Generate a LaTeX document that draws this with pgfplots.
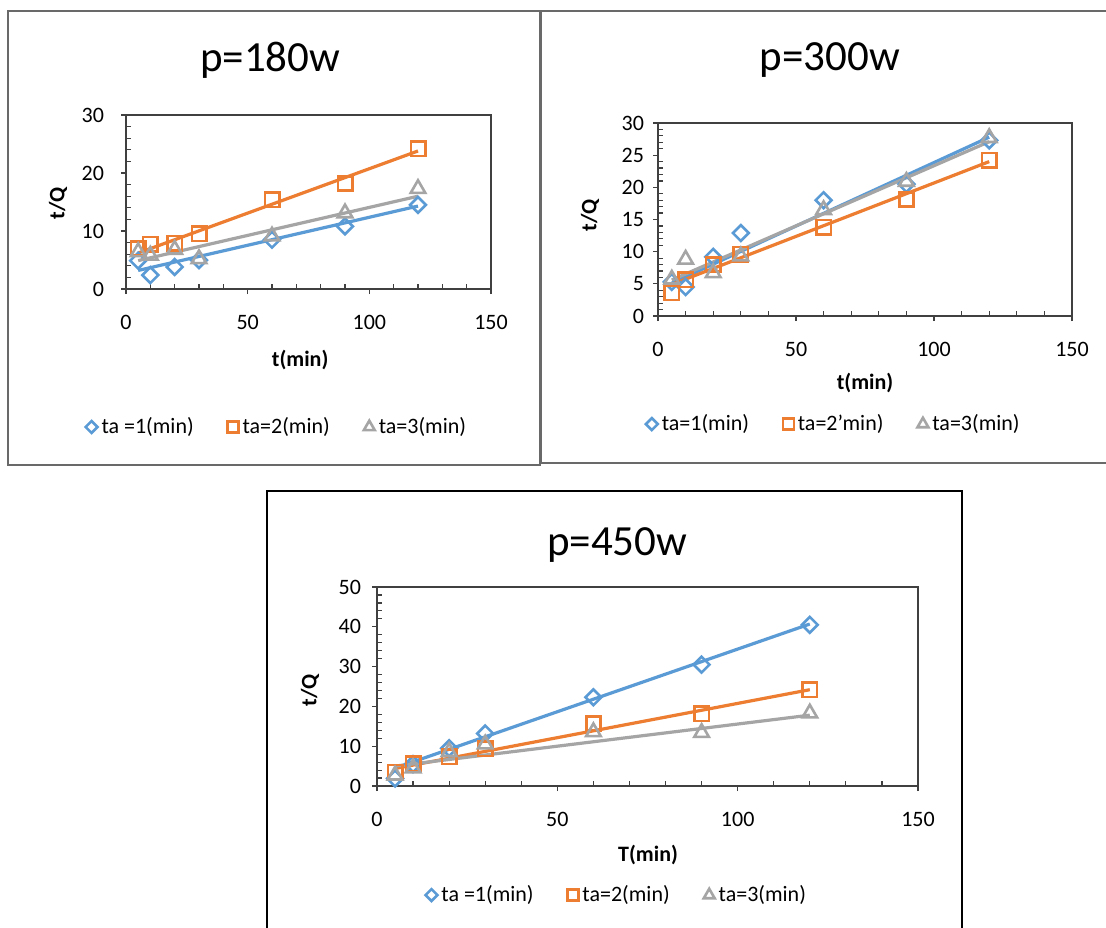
\documentclass[border=0pt]{standalone}
\usepackage{fontspec}
\setmainfont{Carlito}
\usepackage{pgfplots}
\pgfplotsset{compat=1.18}
\definecolor{cblue}{HTML}{5B9BD5}
\definecolor{corange}{HTML}{ED7D31}
\definecolor{cgray}{HTML}{A5A5A5}
\definecolor{frame}{RGB}{105,105,105}
\pgfplotsset{
  exstyle/.style={
    scale only axis,
    xmin=0, xmax=150, xtick={0,50,100,150}, minor x tick num=4,
    ymin=0, minor y tick num=4,
    tick pos=left, tick align=outside,
    major tick length=2.5pt, minor tick length=2.5pt,
    minor x tick style={yshift=2.5pt},
    minor y tick style={xshift=2.5pt},
    axis line style={black!75, line width=0.6pt},
    every tick/.style={black!75, line width=0.6pt},
    ticklabel style={font=\fontsize{11}{13}\selectfont},
    xticklabel style={yshift=-7pt},
    /pgf/number format/assume math mode=true,
    title style={anchor=center, yshift=-6pt, font=\fontsize{21.5}{24}\selectfont},
    xlabel style={anchor=center, font=\bfseries\fontsize{11}{13}\selectfont},
    ylabel style={anchor=center, font=\bfseries\fontsize{11}{13}\selectfont},
    legend columns=3,
    legend cell align=left,
    legend style={anchor=center, draw=none, fill=none, font=\fontsize{11}{13}\selectfont,
      /tikz/every even column/.append style={column sep=15pt}},
    legend image code/.code={\draw[mark repeat=2,mark phase=2,##1,every mark/.append style={scale=0.75}] plot coordinates {(0pt,0pt)(4.5pt,0pt)(9pt,0pt)};},
  },
  sblue/.style={only marks, mark=square, mark size=2.8pt, mark options={rotate=45, draw=cblue, line width=1.3pt, fill=none}},
  sorange/.style={only marks, mark=square, mark size=3.6pt, mark options={draw=corange, line width=1.3pt, fill=none}},
  sgray/.style={only marks, mark=triangle, mark size=4.2pt, mark options={draw=cgray, line width=1.3pt, fill=none}},
  tblue/.style={no marks, cblue, line width=1.6pt, forget plot},
  torange/.style={no marks, corange, line width=1.6pt, forget plot},
  tgray/.style={no marks, cgray, line width=1.6pt, forget plot},
}
\begin{document}
\begin{tikzpicture}
\path[use as bounding box, fill=white] (0,0) rectangle (553pt,-463.5pt);
% frames
\draw[frame, line width=1pt] (4pt,-5.5pt) rectangle (270pt,-232.5pt);
\draw[frame, line width=1pt] (554pt,-5.5pt) -- (270.5pt,-5.5pt) -- (270.5pt,-231.5pt) -- (554pt,-231.5pt);
\draw[black, line width=0.6pt] (133.5pt,-470pt) -- (133.5pt,-245.5pt) -- (481pt,-245.5pt) -- (481pt,-470pt);

% ---------------- p=180w
\begin{axis}[exstyle,
  at={(63pt,-144.5pt)}, anchor=south west,
  width=182.5pt, height=87pt,
  ymax=30, ytick={0,10,20,30},
  yticklabel style={xshift=-5pt},
  title={p=180w}, title style={at={(axis description cs:0.395,1.316)}},
  xlabel={t(min)}, xlabel style={at={(axis description cs:0.477,-0.408)}},
  ylabel={t/Q}, ylabel style={at={(axis description cs:-0.186,0.494)}},
  legend style={at={(axis description cs:0.416,-0.793)}},
]
\addplot[sblue] coordinates {(5,4.9)(10,2.4)(20,3.8)(30,5.0)(60,8.5)(90,10.8)(120,14.5)};
\addlegendentry{ta =1(min)}
\addplot[sorange] coordinates {(5,7.0)(10,7.7)(20,7.9)(30,9.5)(60,15.4)(90,18.2)(120,24.2)};
\addlegendentry{ta=2(min)}
\addplot[sgray] coordinates {(5,6.4)(10,5.8)(20,6.8)(30,5.2)(60,9.1)(90,13.1)(120,17.3)};
\addlegendentry{ta=3(min)}
\addplot[tblue] coordinates {(5,3.2)(120,14.3)};
\addplot[torange] coordinates {(5,6.2)(120,23.8)};
\addplot[tgray] coordinates {(5,4.9)(120,16.0)};
\end{axis}

% ---------------- p=300w
\begin{axis}[exstyle,
  at={(329pt,-158pt)}, anchor=south west,
  width=207pt, height=96.5pt,
  ymax=30, ytick={0,5,10,15,20,25,30},
  yticklabel style={xshift=-1pt},
  title={p=300w}, title style={at={(axis description cs:0.415,1.326)}},
  xlabel={t(min)}, xlabel style={at={(axis description cs:0.5,-0.347)}},
  ylabel={t/Q}, ylabel style={at={(axis description cs:-0.164,0.523)}},
  legend style={at={(axis description cs:0.427,-0.56)}},
]
\addplot[sblue] coordinates {(5,5.3)(10,4.5)(20,9.2)(30,12.9)(60,18.0)(90,20.5)(120,27.3)};
\addlegendentry{ta=1(min)}
\addplot[sorange] coordinates {(5,3.6)(10,5.6)(20,8.0)(30,9.6)(60,13.8)(90,18.1)(120,24.2)};
\addlegendentry{ta=2'min)}
\addplot[sgray] coordinates {(5,5.7)(10,8.8)(20,6.7)(30,9.3)(60,16.5)(90,20.9)(120,27.7)};
\addlegendentry{ta=3(min)}
\addplot[tblue] coordinates {(5,5.1)(120,27.8)};
\addplot[torange] coordinates {(5,4.9)(120,24.0)};
\addplot[tgray] coordinates {(5,5.6)(120,27.1)};
\end{axis}

% ---------------- p=450w
\begin{axis}[exstyle,
  at={(188.5pt,-393pt)}, anchor=south west,
  width=270.5pt, height=99.5pt,
  ymax=50, ytick={0,10,20,30,40,50},
  yticklabel style={xshift=-2pt},
  title={p=450w}, title style={at={(axis description cs:0.444,1.211)}},
  xlabel={T(min)}, xlabel style={at={(axis description cs:0.501,-0.347)}},
  ylabel={t/Q}, ylabel style={at={(axis description cs:-0.124,0.482)}},
  legend style={at={(axis description cs:0.445,-0.548)}},
]
\addplot[sblue] coordinates {(5,1.9)(10,5.5)(20,9.5)(30,13.2)(60,22.3)(90,30.5)(120,40.5)};
\addlegendentry{ta =1(min)}
\addplot[sorange] coordinates {(5,3.5)(10,5.6)(20,7.3)(30,9.4)(60,15.7)(90,18.1)(120,24.2)};
\addlegendentry{ta=2(min)}
\addplot[sgray] coordinates {(5,2.7)(10,4.5)(20,8.6)(30,10.5)(60,13.6)(90,13.4)(120,18.3)};
\addlegendentry{ta=3(min)}
\addplot[tblue] coordinates {(5,4.5)(120,40.7)};
\addplot[torange] coordinates {(5,4.4)(120,24.2)};
\addplot[tgray] coordinates {(5,5.0)(120,17.8)};
\end{axis}
\end{tikzpicture}
\end{document}
